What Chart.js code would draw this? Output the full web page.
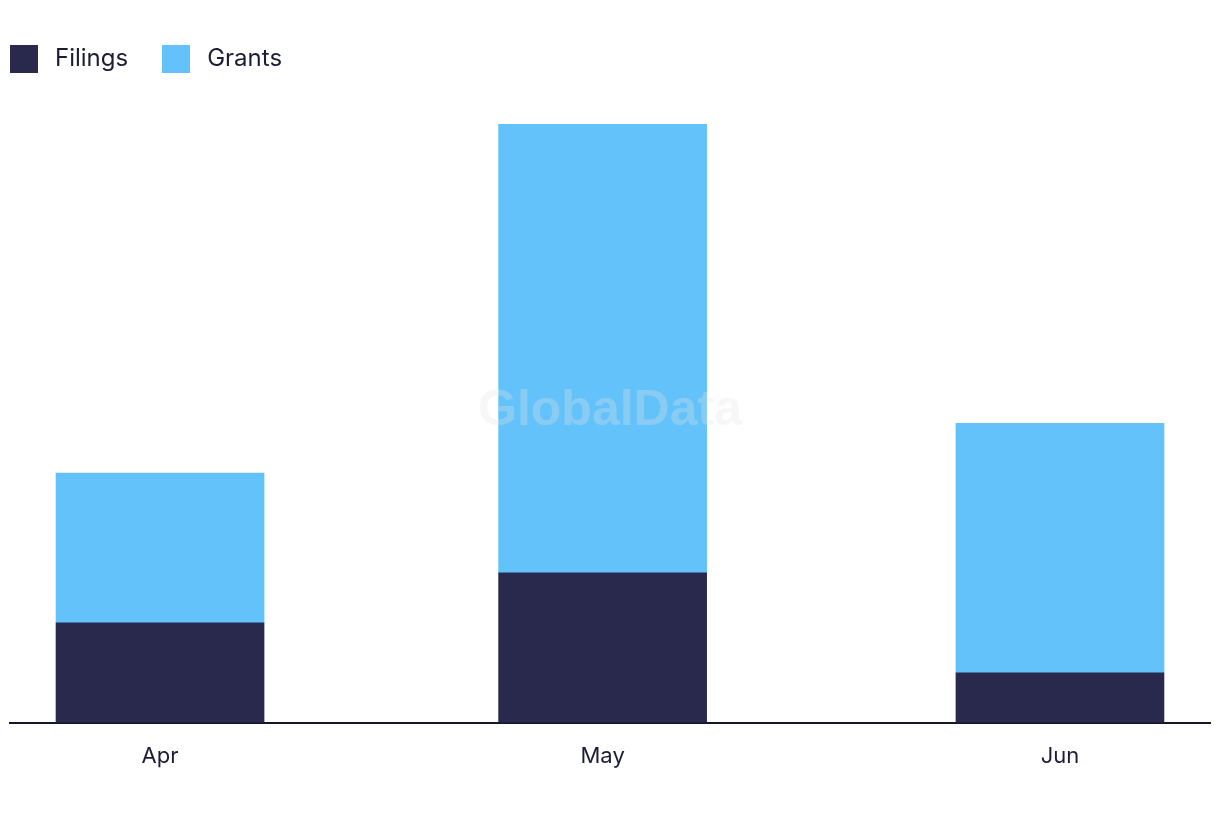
<!DOCTYPE html>
<html>
<head>
<meta charset="utf-8">
<script src="https://cdn.jsdelivr.net/npm/chart.js@4"></script>
<style>
  html, body { margin: 0; padding: 0; background: #fff; }
  #wrap { width: 1220px; height: 822px; position: relative; }
  #legend { position: absolute; left: 10px; top: 45px; display: flex; font-family: Inter, sans-serif; font-size: 24px; color: #1c1c36; }
  .item { display: flex; align-items: center; height: 28px; margin-right: 34px; }
  .item span.txt { position: relative; top: -2px; }
  .box { width: 28px; height: 28px; margin-right: 17px; }
</style>
</head>
<body>
<div id="wrap">
  <div id="legend"></div>
  <canvas id="patentChart"></canvas>
</div>
<script>
// data
const months = ['Apr', 'May', 'Jun'];
const monthDates = ['2023-04-01', '2023-05-01', '2023-06-01'];
const filings = [2, 3, 1];
const grants = [3, 9, 5];

const DAY = 86400000;
const dayNum = d => Date.parse(d) / DAY;
const xs = monthDates.map(dayNum);
const padDays = 10.17;

const watermark = {
    id: 'watermark',
    afterDatasetsDraw(chart) {
        const ctx = chart.ctx;
        ctx.save();
        ctx.font = 'bold 50px "Liberation Sans", Arial, sans-serif';
        ctx.fillStyle = 'rgba(228,228,228,0.3)';
        ctx.textAlign = 'center';
        ctx.textBaseline = 'middle';
        ctx.fillText('GlobalData', 610, 411);
        ctx.restore();
    }
};

function buildLegend(chart) {
    const el = document.getElementById('legend');
    chart.data.datasets.forEach(ds => {
        const item = document.createElement('div');
        item.className = 'item';
        const box = document.createElement('span');
        box.className = 'box';
        box.style.background = ds.backgroundColor;
        const txt = document.createElement('span');
        txt.className = 'txt';
        txt.textContent = ds.label;
        item.appendChild(box);
        item.appendChild(txt);
        el.appendChild(item);
    });
}

function createPatentChart() {
    const chartData = {
        datasets: [{
            label: 'Filings',
            data: xs.map((x, i) => ({ x: x, y: filings[i] })),
            backgroundColor: '#28294c',
            barThickness: 208
        }, {
            label: 'Grants',
            data: xs.map((x, i) => ({ x: x, y: grants[i] })),
            backgroundColor: '#62c2f9',
            barThickness: 208
        }]
    };
    const chartConfig = {
        type: 'bar',
        data: chartData,
        options: {
            maintainAspectRatio: false,
            animation: false,
            layout: { padding: { left: 10, right: 10, top: 124, bottom: 31 } },
            plugins: {
                tooltip: { enabled: false },
                legend: { display: false }
            },
            scales: {
                x: {
                    type: 'linear',
                    stacked: true,
                    offset: false,
                    min: xs[0] - padDays,
                    max: xs[2] + padDays,
                    afterBuildTicks(scale) {
                        scale.ticks = xs.map(v => ({ value: v }));
                    },
                    grid: { display: false, drawTicks: false },
                    border: { display: true, color: '#16162a', width: 2 },
                    ticks: {
                        padding: 21,
                        color: '#1c1c36',
                        font: { family: 'Inter', size: 22 },
                        callback: v => months[xs.indexOf(v)]
                    }
                },
                y: {
                    stacked: true,
                    display: false,
                    min: 0,
                    max: 12
                }
            }
        },
        plugins: [watermark]
    };
    const chart = new Chart(document.getElementById('patentChart'), chartConfig);
    buildLegend(chart);
    return chart;
}

createPatentChart();
</script>
</body>
</html>
